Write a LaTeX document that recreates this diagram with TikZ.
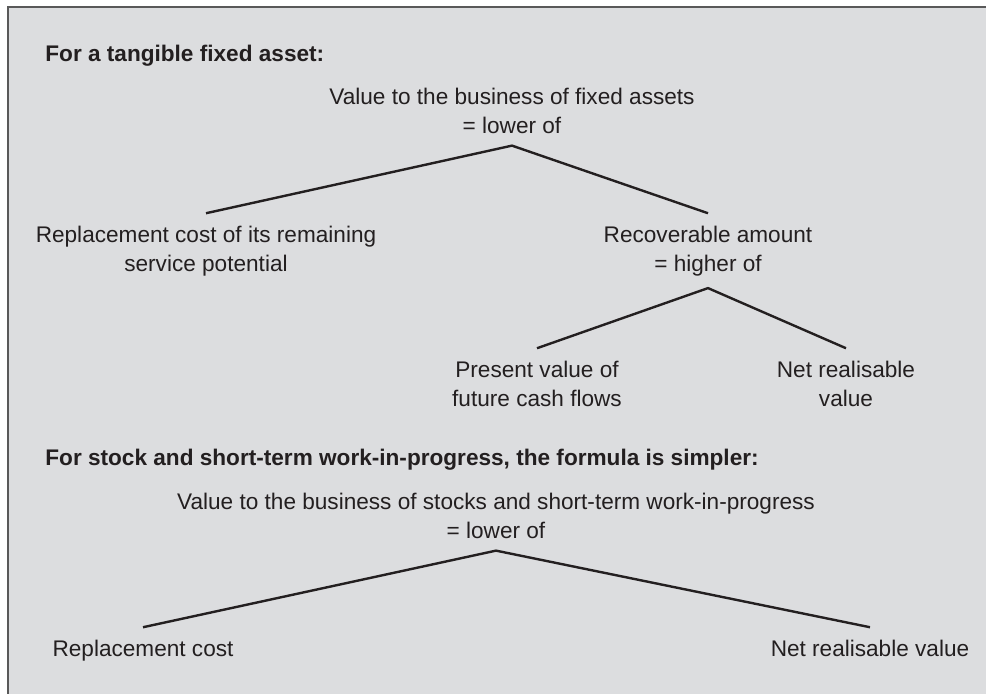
\documentclass[tikz,border=0pt]{standalone}
\usepackage{fontspec}
\setmainfont{Liberation Sans}
\definecolor{panel}{HTML}{DCDDDF}
\definecolor{ink}{HTML}{231F20}
\tikzset{
  txt/.style={align=center, text=ink, font=\fontsize{11.3}{14.5}\selectfont, inner xsep=0pt, inner ysep=6pt, anchor=base},
  head/.style={text=ink, font=\fontsize{11.3}{14.5}\selectfont\bfseries, inner sep=0pt, anchor=base west},
  branch/.style={draw=ink, line width=1.2pt}
}
\begin{document}
\begin{tikzpicture}[x=0.5pt,y=-0.5pt]
\useasboundingbox (0,0) rectangle (986,693);
\draw[fill=panel, draw=black!65, line width=1pt] (8,7) rectangle (1000,710);
% fixed assets
\node[head] (h1) at (45,61) {For a tangible fixed asset:};
\node[txt] (v1) at (512,133) {Value to the business of fixed assets\\= lower of};
\node[txt] (rc1) at (206,271) {Replacement cost of its remaining\\service potential};
\node[txt] (ra) at (708,271) {Recoverable amount\\= higher of};
\node[txt] (pv) at (537,406) {Present value of\\future cash flows};
\node[txt] (nrv1) at (846,406) {Net realisable\\value};
% stock
\node[head] (h2) at (45,465) {For stock and short-term work-in-progress, the formula is simpler:};
\node[txt] (v2) at (496,538) {Value to the business of stocks and short-term work-in-progress\\= lower of};
\node[txt] (rc2) at (143,656) {Replacement cost};
\node[txt] (nrv2) at (870,656) {Net realisable value};
\draw[branch] (rc1.north) -- (v1.south) -- (ra.north);
\draw[branch] (pv.north) -- (ra.south) -- (nrv1.north);
\draw[branch] (rc2.north) -- (v2.south) -- (nrv2.north);
\end{tikzpicture}
\end{document}
